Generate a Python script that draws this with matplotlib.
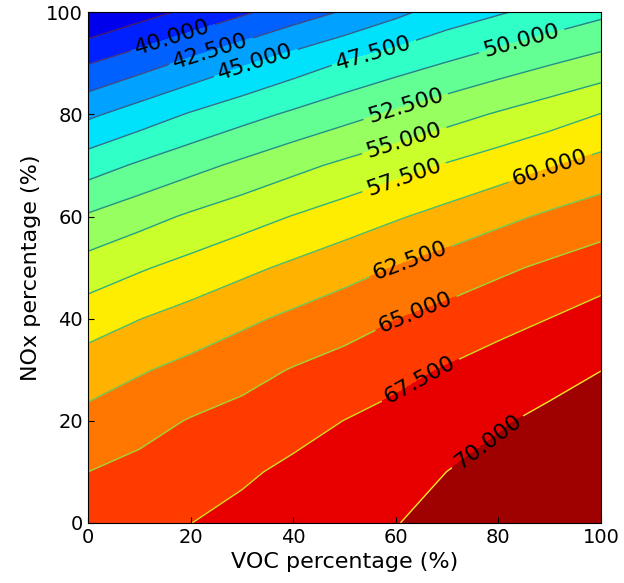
import numpy as np
import matplotlib
matplotlib.use("Agg")
import matplotlib.pyplot as plt

# grid: rows = NOx %, columns = VOC %
voc = [0, 10, 20, 30, 40, 50, 60, 70, 80, 90, 100]
nox = [0, 10, 20, 30, 40, 50, 60, 70, 80, 90, 100]
z = [
    [66.2, 66.85, 67.48, 68.13, 68.74, 69.34, 69.95, 70.5, 71.0, 71.45, 71.87],
    [65.0, 65.66, 66.45, 67.16, 67.96, 68.64, 69.28, 70.01, 70.46, 70.91, 71.33],
    [63.24, 64.17, 65.14, 65.81, 66.68, 67.53, 68.27, 69.17, 69.84, 70.35, 70.76],
    [61.23, 62.26, 63.2, 64.16, 65.13, 65.9, 66.79, 67.68, 68.64, 69.45, 69.98],
    [58.85, 59.95, 60.94, 61.99, 63.0, 63.98, 64.95, 65.8, 66.62, 67.52, 68.55],
    [56.05, 57.23, 58.31, 59.4, 60.46, 61.52, 62.6, 63.56, 64.55, 65.42, 66.24],
    [52.77, 54.07, 55.35, 56.47, 57.59, 58.66, 59.75, 60.81, 61.87, 62.88, 63.8],
    [48.88, 50.35, 51.71, 53.02, 54.31, 55.49, 56.59, 57.71, 58.77, 59.85, 60.88],
    [44.55, 46.14, 47.72, 49.1, 50.41, 51.67, 52.9, 54.09, 55.24, 56.35, 57.57],
    [39.9, 41.48, 43.08, 44.68, 46.23, 47.7, 48.93, 50.11, 51.25, 52.35, 53.41],
    [34.9, 36.5, 38.06, 39.63, 41.25, 42.76, 44.43, 46.12, 47.27, 48.36, 49.44],
]

# where the labels sit in the reference (VOC, NOx)
label_pos = [(16.6, 94.9), (24, 92.2), (32.7, 90.2), (55.7, 92.2), (84.8, 93.5),
             (61.8, 82.0), (61.5, 75.4), (61.5, 68.0), (90, 69.8), (62.8, 51.5),
             (63.8, 41.4), (64.5, 28.5), (77.4, 16.6)]

X, Y = np.meshgrid(voc, nox)
Z = np.array(z)

fig = plt.figure(figsize=(6.24, 5.83), dpi=100)
ax = fig.add_subplot(111)
fig.subplots_adjust(left=0.141, right=0.963, bottom=0.103, top=0.979)

ax.contourf(X, Y, Z, levels=np.arange(32.5, 72.6, 2.5), cmap="jet")
cl = ax.contour(X, Y, Z, levels=np.arange(35, 70.1, 2.5), linewidths=1)
ax.clabel(cl, fmt="%.3f", colors="k", fontsize=16, manual=label_pos)

ax.set_xlim(0, 100)
ax.set_ylim(0, 100)
ax.tick_params(direction="in", labelsize=14, length=4)
ax.set_xlabel("VOC percentage (%)", fontsize=16)
ax.set_ylabel("NOx percentage (%)", fontsize=16)

plt.savefig("out.png", dpi=100)
